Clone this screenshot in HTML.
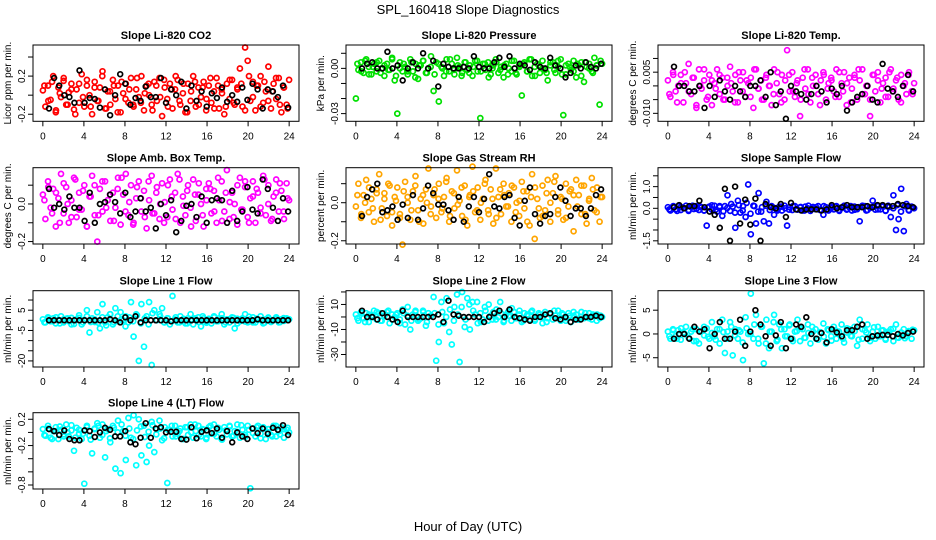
<!DOCTYPE html>
<html><head><meta charset="utf-8">
<style>
html,body{margin:0;padding:0;background:#fff;}
svg{display:block;font-family:"Liberation Sans",sans-serif;}
</style></head>
<body>
<svg id="chart" width="936" height="540" viewBox="0 0 936 540">
<text x="468" y="14" text-anchor="middle" font-size="13">SPL_160418  Slope Diagnostics</text>
<text x="468" y="531" text-anchor="middle" font-size="13">Hour of Day (UTC)</text>
</svg>
<script>
// ---- data ----
const co2Vals=[0.05,-0.12,0.1,-0.05,0.2,-0.18,0.08,-0.02,0.15,-0.1,0.03,0.12,-0.15,0.06,-0.08,0.22,-0.12,0.1,0.0,-0.2,0.14,-0.06,0.08,0.25,-0.14,0.04,-0.1,0.16,-0.04,0.1,-0.18,0.02,0.12,-0.08,0.18,-0.12,0.06,-0.02,0.2,-0.16,0.1,0.0,-0.1,0.14,-0.06,0.18,-0.22,0.08,-0.04,0.12,-0.14,0.06,0.16,-0.1,0.02,-0.18,0.12,-0.06,0.2,-0.12,0.08,-0.02,0.14,-0.16,0.1,-0.08,0.04,0.18,-0.14,0.06,-0.2,0.12,-0.04,0.16,-0.1,0.08,0.28,-0.12,0.5,0.36,-0.06,0.14,-0.16,0.1,0.2,-0.08,0.04,0.3,-0.14,0.12,-0.04,0.18,-0.18,0.08,-0.1,0.16];
const co2Vals2=[0.1,-0.06,0.14,-0.16,0.02,0.18,-0.1,0.06,-0.2,0.12,-0.02,0.16,-0.12,0.08,-0.06,0.2,-0.14,0.04,0.1,-0.18,0.14,-0.04,0.06,-0.1,0.18,-0.08,0.02,0.12,-0.16,0.1,-0.02,0.16,-0.12,0.06,0.2,-0.06,0.12,-0.18,0.04,0.14,-0.1,0.08,-0.04,0.18,-0.14,0.1,0.02,-0.12,0.16,-0.08,0.06,0.12,-0.16,0.2,-0.02,0.1,-0.12,0.14,-0.06,0.04,0.18,-0.1,0.08,-0.14];
const co2Black=[-0.14,0.18,0.1,0.0,-0.02,-0.08,0.26,-0.08,-0.03,-0.04,-0.13,0.06,-0.21,0.0,0.22,0.12,-0.1,-0.03,-0.06,0.09,-0.02,-0.02,0.18,-0.08,0.06,0.0,0.14,-0.14,0.1,-0.06,0.04,-0.12,0.02,-0.03,0.08,-0.07,0.0,-0.07,0.08,-0.05,0.12,0.06,-0.14,0.06,0.04,-0.02,0.1,-0.13];
const presVals=[-0.02,-0.001,0.004,-0.003,0.006,0.001,-0.004,0.003,-0.002,0.005,0.0,-0.005,0.003,-0.001,0.007,-0.008,-0.03,0.004,-0.002,0.001,-0.004,0.006,-0.002,0.003,-0.007,0.002,0.005,-0.003,0.0,0.008,-0.015,0.004,-0.022,0.001,-0.005,0.006,-0.002,0.003,-0.004,0.007,0.001,-0.003,0.004,-0.001,0.002,-0.005,0.005,-0.002,-0.033,0.003,-0.001,0.004,-0.004,0.002,0.006,-0.003,0.001,-0.006,0.003,0.0,-0.002,0.005,-0.004,0.002,-0.018,0.004,-0.002,0.006,-0.005,0.001,0.003,-0.003,0.005,-0.001,-0.008,0.002,0.004,-0.003,0.001,0.006,-0.031,-0.004,0.003,-0.001,0.005,-0.006,0.002,0.004,-0.009,0.001,0.003,-0.002,0.007,0.002,-0.024,0.003];
const presVals2=[0.003,-0.002,0.005,-0.004,0.001,0.004,-0.003,0.002,-0.001,0.006,-0.005,0.0,0.003,-0.002,0.004,-0.006,0.002,0.005,-0.003,0.001,-0.004,0.003,0.0,-0.002,0.006,-0.001,0.002,-0.005,0.004,-0.003,0.001,0.005,-0.002,0.003,-0.006,0.0,0.004,-0.001,0.002,-0.004,0.005,-0.003,0.001,0.003,-0.002,0.006,-0.005,0.002,0.0,-0.003,0.004,-0.001,0.005,-0.004,0.002,0.001,-0.002,0.003,-0.005,0.004,0.0,-0.003,0.002,0.005];
const presBlack=[0.0,0.003,0.004,0.0,0.0,0.011,0.0,0.002,-0.008,0.0,0.004,0.0,0.01,0.0,0.005,-0.012,0.003,0.001,0.0,0.0,0.001,0.0,0.008,0.001,0.0,0.0,0.004,0.007,0.001,0.008,0.0,0.003,0.002,-0.001,0.004,0.001,0.0,0.007,0.002,0.0,-0.006,-0.003,0.002,0.0,0.004,0.001,0.0,0.003];
const tempVals=[0.002,-0.004,0.005,-0.002,0.0,0.004,-0.006,0.001,0.008,-0.003,0.003,-0.008,0.006,-0.001,0.002,-0.005,0.004,-0.007,0.001,0.006,-0.003,0.003,-0.005,0.0,0.007,-0.002,0.004,-0.006,0.002,0.005,-0.004,0.001,0.003,-0.008,0.006,-0.001,0.002,-0.005,0.004,0.0,-0.007,0.006,0.001,-0.003,0.004,-0.005,0.013,-0.002,0.005,-0.004,0.002,-0.011,0.003,-0.001,0.006,-0.006,0.0,0.004,-0.003,0.002,0.005,-0.005,0.001,0.003,-0.002,0.006,-0.004,0.001,0.005,-0.007,0.003,-0.001,0.004,-0.005,0.002,0.006,-0.003,0.0,-0.011,0.004,-0.002,0.005,-0.006,0.001,0.003,-0.004,0.006,-0.001,0.002,-0.005,0.004,0.0,-0.003,0.005,-0.002,0.001];
const tempVals2=[-0.003,0.004,-0.006,0.001,0.005,-0.002,0.003,-0.007,0.0,0.006,-0.004,0.002,-0.001,0.004,-0.005,0.003,0.001,-0.006,0.005,-0.002,0.002,-0.004,0.006,-0.001,-0.005,0.003,0.0,-0.003,0.005,-0.006,0.002,0.004,-0.002,0.001,-0.005,0.006,-0.003,0.003,0.0,-0.007,0.004,-0.001,0.002,-0.004,0.005,-0.002,0.001,-0.006,0.003,0.006,-0.003,0.0,-0.005,0.004,0.002,-0.001,-0.004,0.005,-0.002,0.003,-0.006,0.001,0.004,-0.003];
const tempBlack=[0.007,0.0,0.0,-0.002,-0.002,0.0,-0.008,0.0,-0.004,0.002,-0.002,-0.005,0.0,-0.002,-0.004,0.0,0.0,0.002,-0.004,0.005,-0.007,-0.002,-0.012,0.0,-0.002,-0.003,-0.005,-0.003,0.0,-0.002,-0.006,-0.001,-0.003,0.0,-0.009,-0.006,-0.004,-0.003,0.0,-0.005,-0.006,0.008,-0.001,-0.002,-0.004,0.0,0.004,-0.002];
const ambVals=[0.05,-0.08,0.12,-0.02,0.08,-0.12,0.03,0.16,-0.05,0.09,-0.1,0.02,0.14,-0.07,0.06,-0.03,0.1,-0.12,0.04,0.15,-0.06,-0.2,0.08,-0.04,0.12,0.02,-0.09,0.06,-0.02,0.14,-0.11,0.05,0.16,-0.06,0.1,-0.1,0.03,0.12,-0.04,0.07,-0.13,0.02,0.15,-0.05,0.09,-0.08,0.11,0.01,-0.07,0.13,-0.03,0.06,0.16,-0.1,0.04,-0.06,0.1,-0.02,0.13,-0.09,0.05,0.0,-0.12,0.08,0.11,-0.05,0.07,-0.1,0.02,0.12,-0.04,0.18,-0.08,0.06,0.0,-0.11,0.14,-0.03,0.09,-0.07,0.03,0.12,-0.1,0.06,-0.02,0.15,-0.06,0.1,-0.09,0.04,0.13,-0.04,0.07,-0.08,0.11,0.02];
const ambVals2=[0.02,0.09,-0.05,0.06,-0.1,0.11,0.0,-0.07,0.13,-0.03,0.07,-0.12,0.04,0.1,-0.06,0.12,-0.02,0.05,-0.09,0.08,0.14,-0.04,0.01,-0.11,0.09,0.03,-0.07,0.12,-0.05,0.06,0.0,-0.1,0.1,0.04,-0.08,0.13,-0.01,0.07,-0.12,0.05,0.11,-0.06,0.02,0.08,-0.04,0.14,-0.09,0.06,0.01,-0.07,0.1,-0.03,0.12,-0.1,0.04,0.08,-0.05,0.13,0.0,-0.08,0.06,0.11,-0.04,0.03];
const ambBlack=[0.08,-0.02,0.0,-0.03,0.04,-0.02,-0.02,-0.09,0.06,-0.1,0.0,0.01,0.05,0.01,-0.05,0.06,-0.07,-0.04,0.03,-0.04,-0.02,-0.13,0.0,-0.06,0.02,-0.15,-0.09,-0.01,0.0,-0.07,0.04,-0.1,0.02,0.03,0.02,-0.1,0.07,-0.09,-0.04,0.09,-0.03,-0.05,0.13,0.08,-0.02,-0.09,0.03,-0.04];
const rhVals=[-0.02,0.1,-0.08,0.04,0.12,-0.05,0.02,-0.1,0.07,0.15,-0.03,0.05,-0.07,0.09,-0.12,0.03,0.08,-0.06,-0.22,0.11,0.0,-0.09,0.06,0.14,-0.04,0.02,-0.11,0.07,0.18,-0.02,0.04,-0.08,0.1,-0.05,0.03,0.13,-0.1,0.06,-0.03,0.17,0.01,-0.07,0.09,-0.12,0.04,0.19,-0.05,0.08,-0.09,0.02,0.12,-0.04,0.07,-0.11,0.18,0.03,-0.06,0.1,-0.02,0.05,-0.1,0.08,0.0,-0.07,0.11,-0.03,0.06,-0.12,0.15,-0.19,0.02,-0.08,0.09,-0.04,0.12,-0.1,0.05,0.14,-0.06,0.03,-0.09,0.1,-0.02,0.07,-0.15,0.12,0.04,-0.06,0.09,-0.11,0.02,0.13,-0.04,0.08,-0.1,0.03];
const rhVals2=[0.04,-0.06,0.0,0.08,-0.03,0.05,-0.09,0.02,0.1,-0.05,0.01,-0.08,0.06,0.03,-0.04,0.09,-0.1,0.04,0.0,-0.06,0.07,0.02,-0.03,0.11,-0.07,0.05,-0.01,0.08,-0.09,0.03,0.06,-0.04,0.0,0.1,-0.06,0.02,-0.08,0.07,0.04,-0.02,0.09,-0.05,0.01,0.06,-0.1,0.03,0.08,-0.03,-0.07,0.05,0.0,0.11,-0.04,0.02,-0.08,0.06,0.04,-0.02,0.09,-0.06,0.01,0.07,-0.05,0.03];
const rhBlack=[-0.07,0.03,0.07,0.1,-0.05,-0.04,-0.02,-0.09,-0.01,-0.08,0.04,-0.09,-0.03,0.09,0.05,-0.01,-0.01,-0.04,-0.09,0.03,-0.1,-0.02,0.03,-0.05,0.02,0.15,-0.02,-0.03,0.03,0.04,-0.08,-0.12,0.01,0.08,-0.06,-0.11,-0.07,-0.06,0.03,0.08,0.01,-0.07,-0.03,-0.03,-0.07,-0.03,0.04,0.07];
const sampleVals=[0.05,-0.1,0.08,-0.05,0.1,-0.08,0.02,0.12,-0.12,0.06,-0.03,0.1,-0.08,0.04,-0.1,-0.8,0.08,-0.06,0.12,-0.15,0.05,-0.35,0.1,0.6,-0.12,0.08,-0.9,0.35,-0.2,0.1,-0.4,1.1,-1.2,0.12,-0.7,0.7,-0.15,-0.6,0.3,-0.7,0.1,-0.3,-0.05,0.08,-0.1,0.12,-0.8,0.05,-0.08,0.1,-0.06,0.04,-0.1,0.08,0.0,-0.12,0.06,-0.04,0.1,-0.08,-0.3,0.05,-0.1,0.07,-0.05,0.1,-0.08,0.03,0.12,-0.06,0.05,-0.1,0.08,-0.04,-0.6,0.06,0.1,-0.08,0.04,0.35,-0.06,0.1,-0.05,0.08,-0.1,0.12,-0.4,0.6,-1.0,-0.5,0.9,-1.05,0.2,-0.1,0.08,0.0];
const sampleVals2=[-0.05,0.1,-0.12,0.06,0.0,-0.08,0.12,-0.02,0.08,-0.1,0.04,0.14,-0.06,0.1,-0.14,0.02,0.2,-0.2,0.15,-0.1,0.25,-0.25,0.1,-0.15,0.05,0.12,-0.08,0.03,-0.1,0.08,0.0,-0.06,0.1,-0.04,0.06,-0.1,0.12,-0.02,0.05,-0.08,0.1,-0.06,0.02,0.08,-0.12,0.04,-0.03,0.1,-0.07,0.05,0.12,-0.1,0.02,0.08,-0.05,0.1,-0.12,0.06,0.0,0.15,-0.15,0.1,-0.08,0.05];
const sampleBlack=[0.05,0.15,0.0,0.1,0.1,0.35,0.05,-0.15,-0.3,-0.9,0.9,-1.5,1.0,-0.7,0.4,-0.75,0.45,-1.5,0.2,0.05,0.0,0.2,-0.4,0.25,-0.05,-0.1,-0.05,-0.05,-0.05,-0.1,-0.05,0.15,0.0,0.05,0.15,0.05,0.05,0.05,0.1,0.05,0.15,0.15,0.1,0.1,0.2,0.15,0.1,0.05];
const line1Vals=[0.5,-1,1.5,-0.5,1,-1.5,0.3,2,-1,0.8,-0.5,1.2,-1.8,0.5,2.5,-2,0.2,5,-6,1,-0.8,4,-4,8,-1,1.5,3,-2,6,-0.5,4,0,2,-1,9,-8,3,-20,8,-13,2,9,-22,5,0,3,6,-1,1,-2,12,0.5,-1,2,0,-1.5,1,3,-2,0.5,1.5,-3,1,-0.5,0.8,-1.5,2,-0.5,1,3,-2,0.5,-1,1.5,-4,0.8,-0.5,1,3,-1,0.5,1.5,-1,0.3,2,-1.5,0.5,1,-0.8,0.2,1.5,-1,0.5,-0.3,1,0.5];
const line1Vals2=[-1,1,-0.5,1.5,-1.5,0.5,1,-2,0.3,1.2,-1,2,-0.8,0.5,-1.2,1.5,-2.5,3,-1,2,0.5,-3,1.5,-0.5,2.5,-1.5,1,-2,3.5,0,2,-1,1,-0.5,1.5,-1,0.8,-1.5,0.5,1,-0.8,2,-1.2,0.3,1.5,-0.5,1,-1,0.6,1.2,-1.5,0.4,-0.6,1.8,-1,0.8,0.2,-1.2,1.4,-0.4,0.9,-0.9,1.1,0.3];
const line1Black=[0,0,0,0,0,0,0,0,0,0,0,0,0.5,0,-1,1.5,0,2,-1,0,0,0,0,0,-0.5,0,0,0,0,0,0,0,0,0,0,0,0,0,0,0,0,0.5,0,0,0,0,0,0];
const line2Vals=[2,-3,4,-1,3,-4,1,5,-2,3,-3,1,4,-5,2,0,3,-2,6,-6,8,-10,2,5,-3,-1,4,-7,3,1,16,-35,-20,12,-5,15,-12,-22,8,18,-36,20,-8,15,-10,12,2,-5,3,-2,5,-3,1,4,-2,0,3,-4,2,1,-3,4,-1,2,-4,3,1,-2,5,-3,0,2,-5,4,-1,3,-2,1,5,-3,2,-1,3,-4,1,2,-2,4,-1,0,3,-2,1,2,-1,0];
const line2Vals2=[-1,3,-4,2,0,4,-3,1,5,-2,2,-5,3,1,-3,4,-2,5,-4,1,3,-6,4,0,6,-3,2,8,-2,10,5,12,-4,8,10,-2,6,12,-3,4,7,-1,5,-3,2,4,-2,3,0,-4,2,5,-1,3,-3,1,4,-2,0,3,-1,2,-3,1];
const line2Black=[5,0,0,-2,3,0,-2,-4,5,0,0,0,0,0,0,2,-4,13,2,1,0,0,0,0,-4,0,3,5,0,6,0,-1,-2,-3,0,0,2,3,-1,-2,0,-4,-2,-2,0,0,1,0];
const line3Vals=[0.5,-1,1,-0.5,0.8,-1.2,0.3,1.5,-0.8,0.5,-1.5,1,-2,0.6,-0.3,1.2,-1,2.5,-0.5,1,-2,3,-4,0.5,2.5,-4.5,1,-1,0.5,-5.5,3.5,0,8.5,-1,4,-2,1.5,-6.2,3,-3,0.5,4,-1.5,2,-3,1,-0.5,2,-1,0.5,3,-1.5,1,-0.8,2,-2,0.5,1,-1.2,0.3,2.2,-2,0.8,-0.5,1.5,-1,0.5,2,-1.8,0.3,1,-0.5,1.5,-2.5,3,-1,0.8,2,-1.5,0.5,-1,1.5,-0.5,0.8,-1.2,0.5,1,-1.5,2,-0.8,0.3,1,-0.5,0.5,-1,0.8];
const line3Vals2=[-0.5,0.8,-1,1.2,0,-0.8,1,-1.5,0.5,1.5,-0.6,0.2,-1.2,1,0.4,-1,1.5,-0.3,0.8,-1.8,1.2,0,2,-1,1.5,-2,0.5,2.5,-1.2,1,-0.5,1.8,-1.5,0.6,1.2,-0.8,0.2,1.5,-1,0.4,-0.6,1,-1.4,0.8,0.2,-1,1.2,-0.4,0.6,-1.2,1,0.3,-0.8,1.4,-0.5,0.7,-1,0.5,1.1,-0.7,0.2,-0.9,0.6,0.9];
const line3Black=[-1,0,0,-1,1.5,0.5,1,-3,0,2.5,-1,-1,0.5,3,-2.5,0.5,5,2,-0.5,-2.5,-0.3,2.5,-3,-1,2,1.5,3.5,0,-1,0.2,-1.8,1,0.3,-0.5,0.8,0.8,1.5,2,-1,-0.5,-0.3,-0.2,-0.2,-0.5,0,-0.3,0.2,0.5];
const line4Vals=[0.05,-0.05,0.1,-0.08,0.02,0.08,-0.1,0.04,-0.03,0.12,-0.06,0.03,-0.28,0.07,-0.02,-0.1,-0.78,0.1,-0.05,-0.32,0.06,0.14,-0.08,0.12,-0.38,0.05,-0.15,0.1,-0.55,0.18,-0.62,0.02,-0.42,0.22,-0.08,0.26,-0.5,0.2,-0.35,0.1,-0.45,-0.2,0.16,-0.3,0.05,0.18,-0.12,0.08,-0.77,0.04,-0.06,0.1,-0.02,0.06,-0.1,0.08,-0.04,0.12,-0.08,0.02,0.1,-0.06,0.04,-0.1,0.08,-0.02,0.12,-0.06,0.04,-0.1,0.08,-0.03,0.1,-0.06,0.02,0.12,-0.08,0.04,-0.04,0.1,-0.85,0.06,-0.06,0.1,-0.02,0.08,-0.1,0.05,-0.04,0.1,-0.06,0.02,0.08,-0.08,0.04,0.0];
const line4Vals2=[-0.04,0.06,-0.1,0.02,0.09,-0.06,0.0,0.11,-0.08,0.04,-0.02,0.08,-0.11,0.05,0.1,-0.04,0.02,-0.09,0.07,0.0,0.12,-0.05,0.06,-0.1,0.03,0.09,-0.07,0.01,0.11,-0.03,0.06,-0.09,0.04,0.1,-0.06,0.02,-0.1,0.08,0.0,0.12,-0.04,0.05,-0.08,0.1,-0.02,0.07,-0.11,0.03,0.09,-0.05,0.01,0.11,-0.07,0.04,-0.01,0.08,-0.09,0.06,0.0,-0.06,0.1,-0.03,0.05,0.07];
const line4Black=[0.05,0.02,-0.04,0.03,-0.1,-0.12,-0.12,0.03,0.02,-0.07,0.0,0.07,0.04,-0.06,-0.06,0.02,-0.15,-0.18,-0.08,0.14,-0.08,0.06,0.08,0.0,0.01,0.01,-0.1,-0.11,0.08,-0.09,0.01,0.03,-0.01,0.06,-0.08,0.02,-0.15,0.0,-0.06,-0.1,0.06,-0.01,0.06,-0.02,0.07,0.04,0.11,-0.04];
const xTicks=[0,4,8,12,16,20,24];
const xTickLabels=["0","4","8","12","16","20","24"];

// ---- layout ----
const NS="http://www.w3.org/2000/svg";
const svg=document.getElementById('chart');
function mk(tag,attrs,parent){const e=document.createElementNS(NS,tag);for(const k in attrs)e.setAttribute(k,attrs[k]);(parent||svg).appendChild(e);return e;}
const colL=[33,346,658], W=266, rowT=[45,167.7,290.7,412.7], H=76.3;
const panels=[
 {key:'co2',title:'Slope Li-820 CO2',yt:'Licor ppm per min.',c:0,r:0,col:'#ff0000',v:co2Vals,v2:co2Vals2,b:co2Black,ylo:-0.274,yhi:0.526,ticks:[-0.2,0,0.2,0.4],labs:['-0.2','','0.2','']},
 {key:'pressure',title:'Slope Li-820 Pressure',yt:'kPa per min.',c:1,r:0,col:'#00e000',v:presVals,v2:presVals2,b:presBlack,ylo:-0.0351,yhi:0.0155,ticks:[0.01,0,-0.01,-0.02,-0.03],labs:['','0.00','','','-0.03']},
 {key:'temp',title:'Slope Li-820 Temp.',yt:'degrees C per min.',c:2,r:0,col:'#ff00ff',v:tempVals,v2:tempVals2,b:tempBlack,ylo:-0.0129,yhi:0.0149,ticks:[0.01,0.005,0,-0.005,-0.01],labs:['','0.005','','','-0.010']},
 {key:'amb-box',title:'Slope Amb. Box Temp.',yt:'degrees C per min.',c:0,r:1,col:'#ff00ff',v:ambVals,v2:ambVals2,b:ambBlack,ylo:-0.213,yhi:0.193,ticks:[0.1,0,-0.1,-0.2],labs:['','0.0','','-0.2']},
 {key:'gas-rh',title:'Slope Gas Stream RH',yt:'percent per min.',c:1,r:1,col:'#ffa500',v:rhVals,v2:rhVals2,b:rhBlack,ylo:-0.217,yhi:0.184,ticks:[0.1,0,-0.1,-0.2],labs:['','0.0','','-0.2']},
 {key:'sample-flow',title:'Slope Sample Flow',yt:'ml/min per min.',c:2,r:1,col:'#0000ff',v:sampleVals,v2:sampleVals2,b:sampleBlack,ylo:-1.647,yhi:1.874,ticks:[1.5,1,0.5,0,-0.5,-1,-1.5],labs:['','1.0','','0.0','','','-1.5']},
 {key:'line1',title:'Slope Line 1 Flow',yt:'ml/min per min.',c:0,r:2,col:'#00ffff',v:line1Vals,v2:line1Vals2,b:line1Black,ylo:-23,yhi:14.6,ticks:[10,5,0,-5,-10,-15,-20],labs:['','5','','-5','','','-20']},
 {key:'line2',title:'Slope Line 2 Flow',yt:'ml/min per min.',c:1,r:2,col:'#00ffff',v:line2Vals,v2:line2Vals2,b:line2Black,ylo:-40,yhi:21,ticks:[20,10,0,-10,-20,-30],labs:['','10','','-10','','-30']},
 {key:'line3',title:'Slope Line 3 Flow',yt:'ml/min per min.',c:2,r:2,col:'#00ffff',v:line3Vals,v2:line3Vals2,b:line3Black,ylo:-6.95,yhi:9.1,ticks:[5,0,-5],labs:['5','0','-5']},
 {key:'line4',title:'Slope Line 4 (LT) Flow',yt:'ml/min per min.',c:0,r:3,col:'#00ffff',v:line4Vals,v2:line4Vals2,b:line4Black,ylo:-0.861,yhi:0.30,ticks:[0.2,0,-0.2,-0.4,-0.6,-0.8],labs:['0.2','','-0.2','','','-0.8']}
];
panels.forEach(p=>{
  const L=colL[p.c], T=rowT[p.r], R=L+W, B=T+H;
  const xs=h=>L+(h+0.96)/25.92*W;
  const ys=v=>T+(p.yhi-v)/(p.yhi-p.ylo)*H;
  const g=mk('g',{});
  
  
  const t=mk('text',{x:(L+R)/2,y:T-6,'text-anchor':'middle','font-size':'11','font-weight':'bold'},g);
  t.textContent=p.title;
  
  
  const yt=mk('text',{transform:`translate(${L-22},${(T+B)/2}) rotate(-90)`,'text-anchor':'middle','font-size':'10'},g);
  yt.textContent=p.yt;
  
  
  const pts=mk('g',{fill:'none',stroke:p.col,'stroke-width':'1.7'},g);
  
  
  const n=p.v.length;
  p.v.forEach((v,i)=>{
    const hr=i*24/(n-1);
    const c=mk('circle',{cx:xs(hr).toFixed(1),cy:ys(v).toFixed(1),r:'2.5'},pts);
    
    
  });
  const n2=p.v2.length;
  p.v2.forEach((v,i)=>{
    const hr=0.15+i*23.7/(n2-1);
    const c=mk('circle',{cx:xs(hr).toFixed(1),cy:ys(v).toFixed(1),r:'2.5'},pts);
    
    
  });
  const bk=mk('g',{fill:'none',stroke:'#000','stroke-width':'1.7'},g);
  
  
  const nb=p.b.length;
  p.b.forEach((v,i)=>{
    const hr=0.6+i*23.3/(nb-1);
    const c=mk('circle',{cx:xs(hr).toFixed(1),cy:ys(v).toFixed(1),r:'2.4'},bk);
    
    
  });
  const fr=mk('rect',{x:L,y:T,width:W,height:H,fill:'none',stroke:'#000','stroke-width':'1'},g);
  
  
  xTicks.forEach((h,i)=>{
    mk('line',{x1:xs(h),x2:xs(h),y1:B,y2:B+5,stroke:'#000'},g);
    const tl=mk('text',{x:xs(h),y:B+18,'text-anchor':'middle','font-size':'10'},g);
    tl.textContent=xTickLabels[i];
    
    
  });
  p.ticks.forEach((v,i)=>{
    mk('line',{x1:L-5,x2:L,y1:ys(v),y2:ys(v),stroke:'#000'},g);
    if(p.labs[i]){
      const yl=mk('text',{transform:`translate(${L-8},${ys(v)}) rotate(-90)`,'text-anchor':'middle','font-size':'10'},g);
      yl.textContent=p.labs[i];
      
      
    }
  });
});
</script>
</body></html>
